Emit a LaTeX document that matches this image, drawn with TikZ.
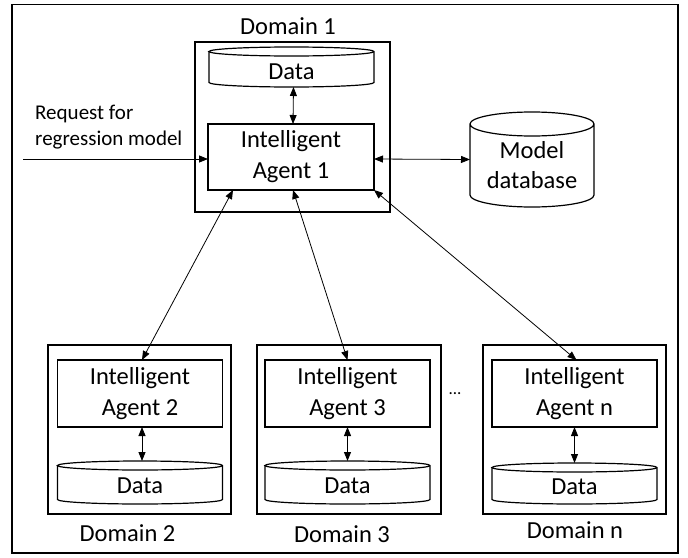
\documentclass[tikz,border=0pt]{standalone}
\usepackage{fontspec}
\setmainfont{Carlito}
\usetikzlibrary{arrows.meta}
\newcommand\cylout[3]{%
  \draw[cylline] ([yshift=-#3]#1.north west) -- ([yshift=#3]#1.south west)
    arc[start angle=180,end angle=360,x radius=#2,y radius=#3]
    -- ([yshift=-#3]#1.north east)
    arc[start angle=0,end angle=360,x radius=#2,y radius=#3];}
\begin{document}
\begin{tikzpicture}[x=1pt,y=-1pt,
  frame/.style={line width=1.8pt},
  domainbox/.style={draw, line width=1.5pt, inner sep=0pt, outer sep=0pt},
  agentbox/.style={draw, line width=1.4pt, align=center, inner sep=0pt, outer sep=0pt,
    font=\fontsize{24.5}{31}\selectfont, minimum width=165pt, minimum height=67pt},
  cylbox/.style={inner sep=0pt, outer sep=0pt},
  cylline/.style={line width=1.2pt},
  lbl/.style={font=\fontsize{24.5}{29}\selectfont, inner sep=0pt},
  cyltext/.style={font=\fontsize{24.5}{30}\selectfont, align=center, inner sep=0pt},
  link/.style={line width=0.8pt, {Triangle[length=9pt,width=7pt]}-{Triangle[length=9pt,width=7pt]}},
  inlink/.style={line width=0.8pt, -{Triangle[length=9pt,width=7pt]}}
]
\useasboundingbox (0,0) rectangle (688,557);
\draw[frame] (12,4.5) rectangle (678,553);

% Domain 1
\node[domainbox, minimum width=195pt, minimum height=170pt] (D1) at (292.5,127) {};
\node[lbl] (L1) at (288,26) {Domain 1};
\node[cylbox, minimum width=165pt, minimum height=40pt,
  label={[cyltext, yshift=-4.5pt]center:Data}] (Dt1) at (291.5,67) {};
\cylout{Dt1}{82.5pt}{4.5pt}
\node[agentbox, minimum width=166pt, minimum height=66pt] (A1) at (291,157) {Intelligent\\Agent 1};

% Request
\node[anchor=west, align=left, inner sep=0pt, font=\fontsize{21}{26}\selectfont] (req) at (35,127) {Request for\\regression model};
\coordinate (in) at (23,159);
\draw[inlink] (in) -- (in -| A1.west);

% Model database
\node[cylbox, minimum width=124pt, minimum height=95pt,
  label={[cyltext, yshift=-5.5pt]center:Model\\database}] (mdb) at (532,159.5) {};
\cylout{mdb}{62pt}{12pt}
\draw[link] ([yshift=-2pt]A1.east) -- (mdb.west);

\draw[link] ([xshift=2pt]Dt1.south) -- ([xshift=2pt]A1.north);

% Domain 2
\node[domainbox, minimum width=183pt, minimum height=169pt] (D2) at (139.5,429.5) {};
\node[agentbox] (A2) at (140,393.5) {Intelligent\\Agent 2};
\node[cylbox, minimum width=165pt, minimum height=43pt,
  label={[cyltext, yshift=-3pt]center:Data}] (Dt2) at (140,482.5) {};
\cylout{Dt2}{82.5pt}{4.5pt}
\draw[link] ([xshift=2pt]A2.south) -- ([xshift=2pt]Dt2.north);
\node[lbl] (L2) at (127.5,533) {Domain 2};

% Domain 3
\node[domainbox, minimum width=184pt, minimum height=169pt] (D3) at (349,429.5) {};
\node[agentbox] (A3) at (347.5,393.5) {Intelligent\\Agent 3};
\node[cylbox, minimum width=165pt, minimum height=43pt,
  label={[cyltext, yshift=-3pt]center:Data}] (Dt3) at (347.5,482.5) {};
\cylout{Dt3}{82.5pt}{4.5pt}
\draw[link] (A3.south) -- (Dt3.north);
\node[lbl] (L3) at (342,534) {Domain 3};

\node[inner sep=0pt, anchor=base, font=\fontsize{17}{20}\selectfont] (dots) at (455,394) {...};

% Domain n
\node[domainbox, minimum width=183pt, minimum height=169pt] (Dn) at (574.5,429.5) {};
\node[agentbox] (An) at (574.5,393.5) {Intelligent\\Agent n};
\node[cylbox, minimum width=165pt, minimum height=41pt,
  label={[cyltext, yshift=-3pt]center:Data}] (Dtn) at (574.5,483.5) {};
\cylout{Dtn}{82.5pt}{4.5pt}
\draw[link] (An.south) -- (Dtn.north);
\node[lbl] (Ln) at (575,530) {Domain n};

% links from agent 1
\draw[link] ([xshift=25pt]A1.south west) -- ([xshift=2pt]A2.north);
\draw[link] ([xshift=2pt]A1.south) -- (A3.north);
\draw[link] (A1.south east) -- ([xshift=2pt]An.north);
\end{tikzpicture}
\end{document}
